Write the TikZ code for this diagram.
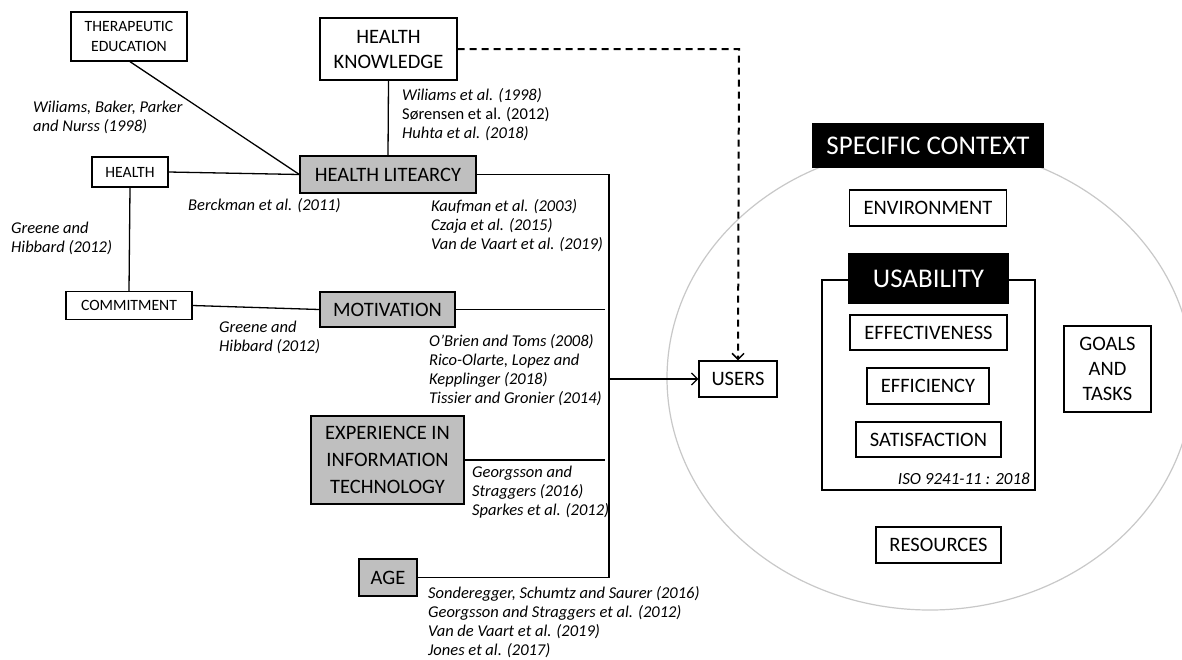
\documentclass[tikz,border=0pt]{standalone}
\usepackage{fontspec}
\setmainfont{Carlito}
\usetikzlibrary{arrows.meta}
\definecolor{boxgray}{HTML}{BFBFBF}
\definecolor{circgray}{HTML}{C8C8C8}
\begin{document}
\begin{tikzpicture}[x=1pt,y=-1pt,
  box/.style={draw=black, line width=1.3pt, inner sep=0pt, align=center, text=black},
  small/.style={box, font=\fontsize{15.7}{20}\selectfont},
  big/.style={box, font=\fontsize{20.5}{25}\selectfont},
  grey/.style={fill=boxgray},
  dark/.style={box, fill=black, text=white, font=\fontsize{27}{30}\selectfont},
  cite/.style={inner sep=0pt, anchor=west, align=left, font=\fontsize{16.5}{19}\selectfont\itshape},
  conn/.style={line width=1.3pt},
]
\useasboundingbox[fill=white] (0,0) rectangle (1182,659);

% context ellipse
\draw[circgray, line width=1.2pt] (930,378) ellipse [x radius=263, y radius=232];

% left-hand nodes
\node[small, minimum width=116, minimum height=49] (ther) at (129,36.5) {THERAPEUTIC\\EDUCATION};
\node[big, minimum width=137, minimum height=62] (hk) at (388.5,49) {HEALTH\\KNOWLEDGE};
\node[small, minimum width=76, minimum height=30] (health) at (130,172) {HEALTH};
\node[big, grey, minimum width=176, minimum height=37] (hl) at (388,174.5) {HEALTH LITEARCY};
\node[small, minimum width=126, minimum height=28] (commit) at (129,305.5) {COMMITMENT};
\node[big, grey, minimum width=135, minimum height=35] (motiv) at (387.5,309.5) {MOTIVATION};
\node[big, grey, minimum width=153, minimum height=88, font=\fontsize{20.5}{27}\selectfont] (exp) at (387.5,460) {EXPERIENCE IN\\INFORMATION\\TECHNOLOGY};
\node[big, grey, minimum width=58, minimum height=37] (age) at (388,577.5) {AGE};
\node[big, minimum width=78, minimum height=36] (users) at (738,379) {USERS};

% right-hand nodes
\draw[line width=1.5pt] (822,280) rectangle (1035,490);
\node[dark, minimum width=230, minimum height=43] (spec) at (928,145.5) {SPECIFIC CONTEXT};
\node[big, minimum width=157, minimum height=36] (env) at (928,208) {ENVIRONMENT};
\node[dark, minimum width=159, minimum height=49] (usab) at (928.5,278.5) {USABILITY};
\node[big, minimum width=157, minimum height=35] (effect) at (928.5,332.5) {EFFECTIVENESS};
\node[big, minimum width=122, minimum height=36] (effic) at (928,386) {EFFICIENCY};
\node[big, minimum width=145, minimum height=35] (satis) at (928.5,439.5) {SATISFACTION};
\node[big, minimum width=87, minimum height=86] (goals) at (1107.5,369) {GOALS\\AND\\TASKS};
\node[big, minimum width=125, minimum height=36] (res) at (938.5,545) {RESOURCES};
\node[inner sep=0pt, anchor=east, font=\fontsize{17}{20}\selectfont\itshape] (iso) at (1030,479) {ISO 9241-11 : 2018};

% connectors
\coordinate (bus) at (609,0);
\coordinate (gap) at (605,0);
\coordinate (dash) at (739,0);
\draw[conn] (ther.south) ++(1,0) coordinate (thS) -- (hl.west);
\draw[conn] (health.east) -- (hl.west);
\draw[conn] (hk.south) -- (hl.north);
\draw[conn] (health.south) -- (commit.north);
\draw[conn] (commit.east) -- (motiv.west);
\draw[conn] (hl.east) -- (hl.east -| bus) -- (age.east -| bus) -- (age.east);
\draw[conn] (motiv.east) -- (motiv.east -| gap);
\draw[conn] (exp.east) -- (exp.east -| gap);
\draw[conn, -{Straight Barb[length=6pt, width=12pt, line width=1.3pt]}] (users.west -| bus) -- (users.west);
\draw[line width=2pt, dash pattern=on 7pt off 5pt, -{Straight Barb[length=6pt, width=12pt, line width=1.5pt]}]
  (hk.east) -- (hk.east -| dash) -- (users.north);

% citations
\node[cite] (c1) at (33,117.5) {Wiliams, Baker, Parker\\and Nurss (1998)};
\node[cite] (c2) at (402,115) {Wiliams et al. (1998)\\{\upshape Sørensen et al. (2012)}\\Huhta et al. (2018)};
\node[cite] (c3) at (188,206) {Berckman et al. (2011)};
\node[cite] (c4) at (11,238) {Greene and\\Hibbard (2012)};
\node[cite] (c5) at (431,226) {Kaufman et al. (2003)\\Czaja et al. (2015)\\Van de Vaart et al. (2019)};
\node[cite] (c6) at (219,337.5) {Greene and\\Hibbard (2012)};
\node[cite] (c7) at (429,370.5) {O’Brien and Toms (2008)\\Rico-Olarte, Lopez and\\Kepplinger (2018)\\Tissier and Gronier (2014)};
\node[cite] (c8) at (472,492.5) {Georgsson and\\Straggers (2016)\\Sparkes et al. (2012)};
\node[cite] (c9) at (428,622.5) {Sonderegger, Schumtz and Saurer (2016)\\Georgsson and Straggers et al. (2012)\\Van de Vaart et al. (2019)\\Jones et al. (2017)};
\end{tikzpicture}
\end{document}
